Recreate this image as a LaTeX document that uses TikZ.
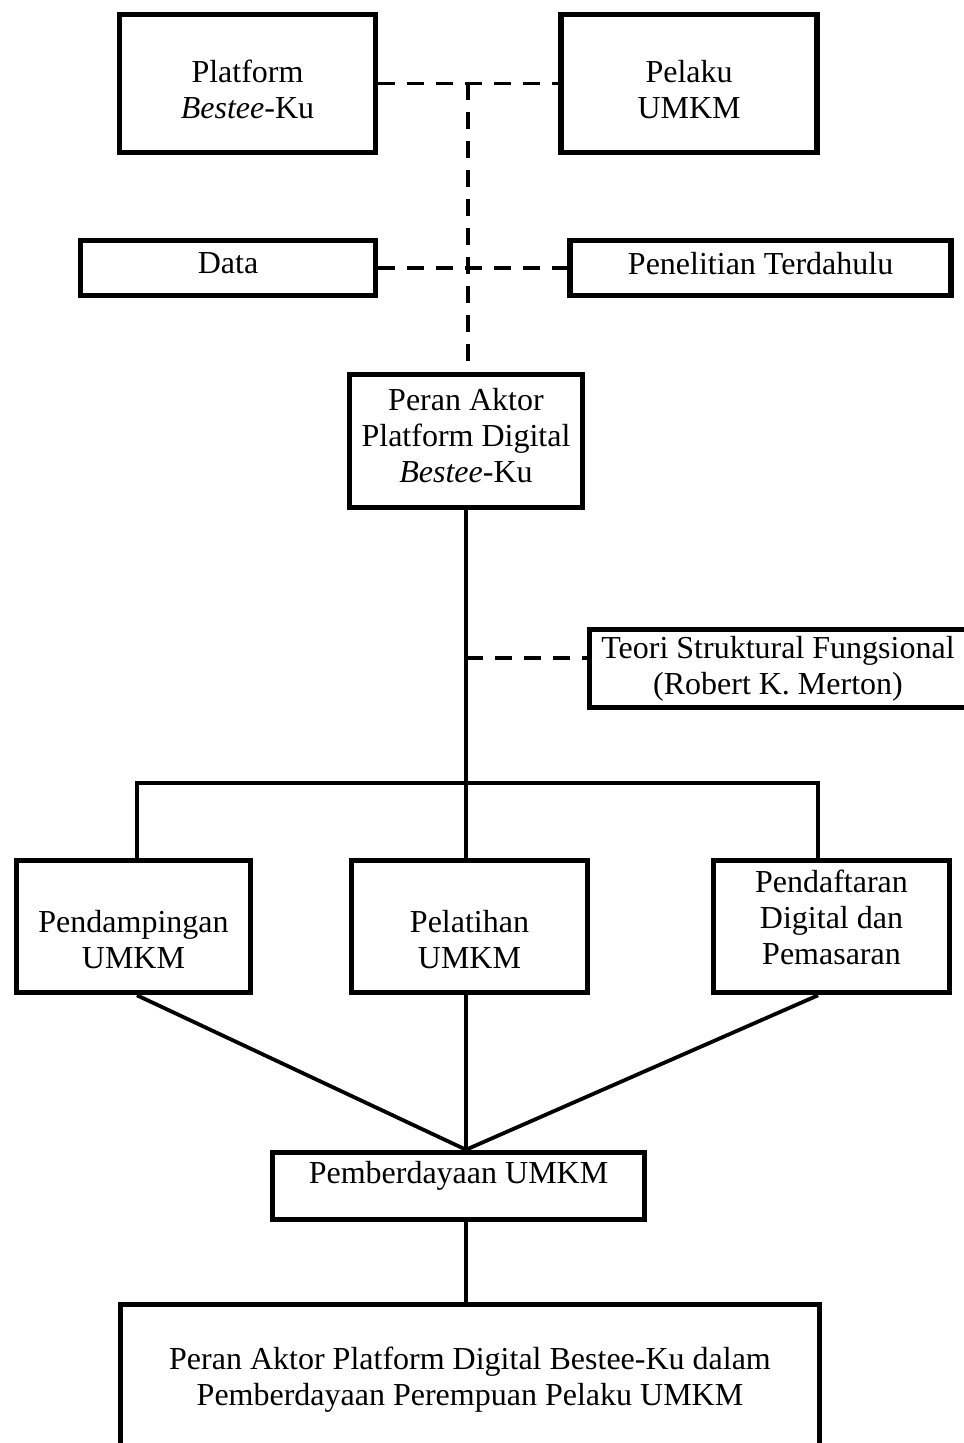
\documentclass[tikz,border=0pt]{standalone}
\usepackage{fontspec}
\setmainfont{Liberation Serif}
\usetikzlibrary{positioning,calc}
\tikzset{
  kotak/.style={rectangle, draw=black, line width=2.8pt, align=center,
                font=\fontsize{16}{18}\selectfont, inner sep=0pt},
  garis/.style={line width=1.9pt, draw=black},
  putus/.style={line width=1.9pt, draw=black, dash pattern=on 8.5pt off 6pt},
}

\begin{document}
\begin{tikzpicture}[x=1pt, y=1pt]
    \useasboundingbox (0,0) rectangle (481.5,-721.5);
    % baris atas
    \node[kotak, minimum width=128pt, minimum height=69pt, text height=35pt] (platform) at (123.75,-41.75)
      {Platform\\\textit{Bestee}-Ku};
    \node[kotak, minimum width=128pt, minimum height=69pt, text height=35pt, right=90pt of platform] (pelaku)
      {Pelaku\\UMKM};
    \node[kotak, minimum width=147.5pt, minimum height=27.5pt, text depth=5pt] (data) at (114,-134) {Data};
    \node[kotak, minimum width=190.5pt, minimum height=27.5pt, text depth=5pt, right=94.5pt of data] (penelitian)
      {Penelitian Terdahulu};
    \node[kotak, minimum width=116.5pt, minimum height=66.5pt, text depth=6pt] (peran) at (233,-220.5)
      {Peran Aktor\\Platform Digital\\\textit{Bestee}-Ku};
    \node[kotak, minimum width=188.5pt, minimum height=39pt] (teori) at (389,-334.25)
      {Teori Struktural Fungsional\\(Robert K. Merton)};
    % tiga peran
    \node[kotak, minimum width=117pt, minimum height=66pt, text height=42pt] (pendampingan) at (66.75,-463.25)
      {Pendampingan\\UMKM};
    \node[kotak, minimum width=118pt, minimum height=66pt, text height=42pt] (pelatihan) at (234.75,-463.25)
      {Pelatihan\\UMKM};
    \node[kotak, minimum width=118pt, minimum height=66pt, text depth=9.5pt] (pendaftaran) at (415.75,-463.25)
      {Pendaftaran\\Digital dan\\Pemasaran};
    \node[kotak, minimum width=186pt, minimum height=33.5pt, text depth=14pt] (pemberdayaan) at (229.25,-593)
      {Pemberdayaan UMKM};
    \node[kotak, minimum width=349.5pt, minimum height=75.5pt] (akhir) at (235,-690)
      {Peran Aktor Platform Digital Bestee-Ku dalam\\Pemberdayaan Perempuan Pelaku UMKM};
    % garis putus-putus
    \coordinate (j1) at ($(platform.east)!0.5!(pelaku.west)$);
    \draw[putus] (platform.east) -- (pelaku.west);
    \draw[putus] (data.east) -- (penelitian.west);
    \draw[putus] (j1) -- (j1 |- peran.north);
    \coordinate (j2) at ($(peran.south)+(0,-74)$);
    \draw[putus] (j2) -- (j2 -| teori.west);
    % garis utuh
    \coordinate (kiri) at (68.5,-391.5);
    \coordinate (kanan) at (409,-391.5);
    \coordinate (temu) at (peran.south |- pemberdayaan.north);
    \draw[garis] (peran.south) -- (peran.south |- pelatihan.north);
    \draw[garis] (kiri |- pendampingan.north) -- (kiri) -- (kanan) -- (kanan |- pendaftaran.north);
    \draw[garis] (kiri |- pendampingan.south) -- (temu);
    \draw[garis] (peran.south |- pelatihan.south) -- (temu);
    \draw[garis] (kanan |- pendaftaran.south) -- (temu);
    \draw[garis] (temu |- pemberdayaan.south) -- (temu |- akhir.north);
  \end{tikzpicture}
\end{document}
